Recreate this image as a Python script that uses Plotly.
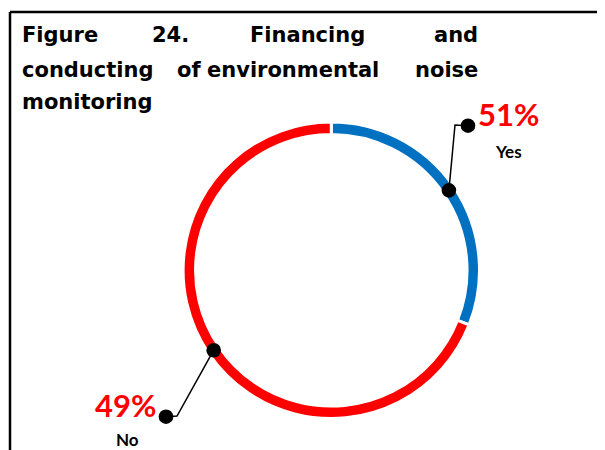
import math
import plotly.graph_objects as go

# ---- data ----
categories = ["Yes", "No"]
arc_shares = [31, 69]            # share of the ring drawn for each answer (as read from the arcs)
label_percent = ["51%", "49%"]   # percentage labels as printed
colors = ["#0070C0", "#FF0000"]
title_lines = [
    ["Figure", "24.", "Financing", "and"],
    ["conducting", "of", "environmental", "noise"],
    ["monitoring"],
]

W, H = 605, 450
OFF = 8                   # page body margin of the browser
FW, FH = W - OFF, H - OFF
cx, cy = 331.3, 270.3     # ring centre (px, window coords)
r_out = 148.2
hole = 0.916
r_mid = 142.2

def px2paper_x(x):
    return (x - OFF) / FW

def px2paper_y(y):
    return (H - y) / FH

fig = go.Figure()

fig.add_trace(go.Pie(
    values=arc_shares, labels=categories, sort=False, direction="clockwise", rotation=0,
    hole=hole, textinfo="none", hoverinfo="label+percent",
    marker=dict(colors=colors, line=dict(color="white", width=3)),
    domain=dict(x=[px2paper_x(cx - r_out), px2paper_x(cx + r_out)],
                y=[px2paper_y(cy + r_out), px2paper_y(cy - r_out)]),
    showlegend=False,
))

# leader lines from the slice mid-angle to the label dots (drawn above the ring)
total = sum(arc_shares)
label_pos = {"Yes": dict(corner=(455, 125), dot=(468, 125.7), pct=(508, 114), cat=(508, 151)),
             "No": dict(corner=(177, 416), dot=(166, 416.7), pct=(125, 405), cat=(127, 439))}
DOT_R = 7.3
cum = 0
for cat, v, pct in zip(categories, arc_shares, label_percent):
    mid = (cum + v / 2) / total * 2 * math.pi
    cum += v
    px = cx + r_mid * math.sin(mid)
    py = cy - r_mid * math.cos(mid)
    lp = label_pos[cat]
    path = "M %.2f %.2f L %.2f %.2f L %.2f %.2f" % (px, py, lp["corner"][0], lp["corner"][1],
                                                    lp["dot"][0], lp["dot"][1])
    fig.add_shape(type="path", path=path, xref="x", yref="y", layer="above",
                  line=dict(color="black", width=1.5))
    for (dx, dy) in [(px, py), lp["dot"]]:
        fig.add_shape(type="circle", xref="x", yref="y", layer="above",
                      x0=dx - DOT_R, x1=dx + DOT_R, y0=dy - DOT_R, y1=dy + DOT_R,
                      fillcolor="black", line=dict(color="black", width=0))
    fig.add_annotation(x=lp["pct"][0], y=lp["pct"][1], text="<b>%s</b>" % pct, showarrow=False,
                       xanchor="center", yanchor="middle",
                       font=dict(family="Lato", size=31, color="#FF0000"))
    fig.add_annotation(x=lp["cat"][0], y=lp["cat"][1], text="<b>%s</b>" % cat, showarrow=False,
                       xanchor="center", yanchor="middle",
                       font=dict(family="Lato", size=17, color="black"))

# justified title, word by word
word_x = [[20, 150, 248, 480], [20, 175, 205, 480], [20]]
line_y = [35, 70, 102]
for words, xs, y in zip(title_lines, word_x, line_y):
    for i, (w, x) in enumerate(zip(words, xs)):
        last = (i == len(words) - 1) and len(words) > 1
        fig.add_annotation(x=x, y=y, text="<b>%s</b>" % w, showarrow=False,
                           xanchor="right" if last else "left", yanchor="middle",
                           font=dict(family="DejaVu Sans", size=21, color="black"))

# frame
fig.add_shape(type="line", x0=10, x1=W + 5, y0=12, y1=12, line=dict(color="black", width=2.5))
fig.add_shape(type="line", x0=10, x1=10, y0=12, y1=H + 5, line=dict(color="black", width=2.5))

fig.update_layout(
    width=FW, height=FH, margin=dict(l=0, r=0, t=0, b=0),
    paper_bgcolor="white", plot_bgcolor="rgba(0,0,0,0)",
    xaxis=dict(range=[OFF, W], visible=False, fixedrange=True),
    yaxis=dict(range=[H, OFF], visible=False, fixedrange=True),
)
fig.write_html("out.html")
